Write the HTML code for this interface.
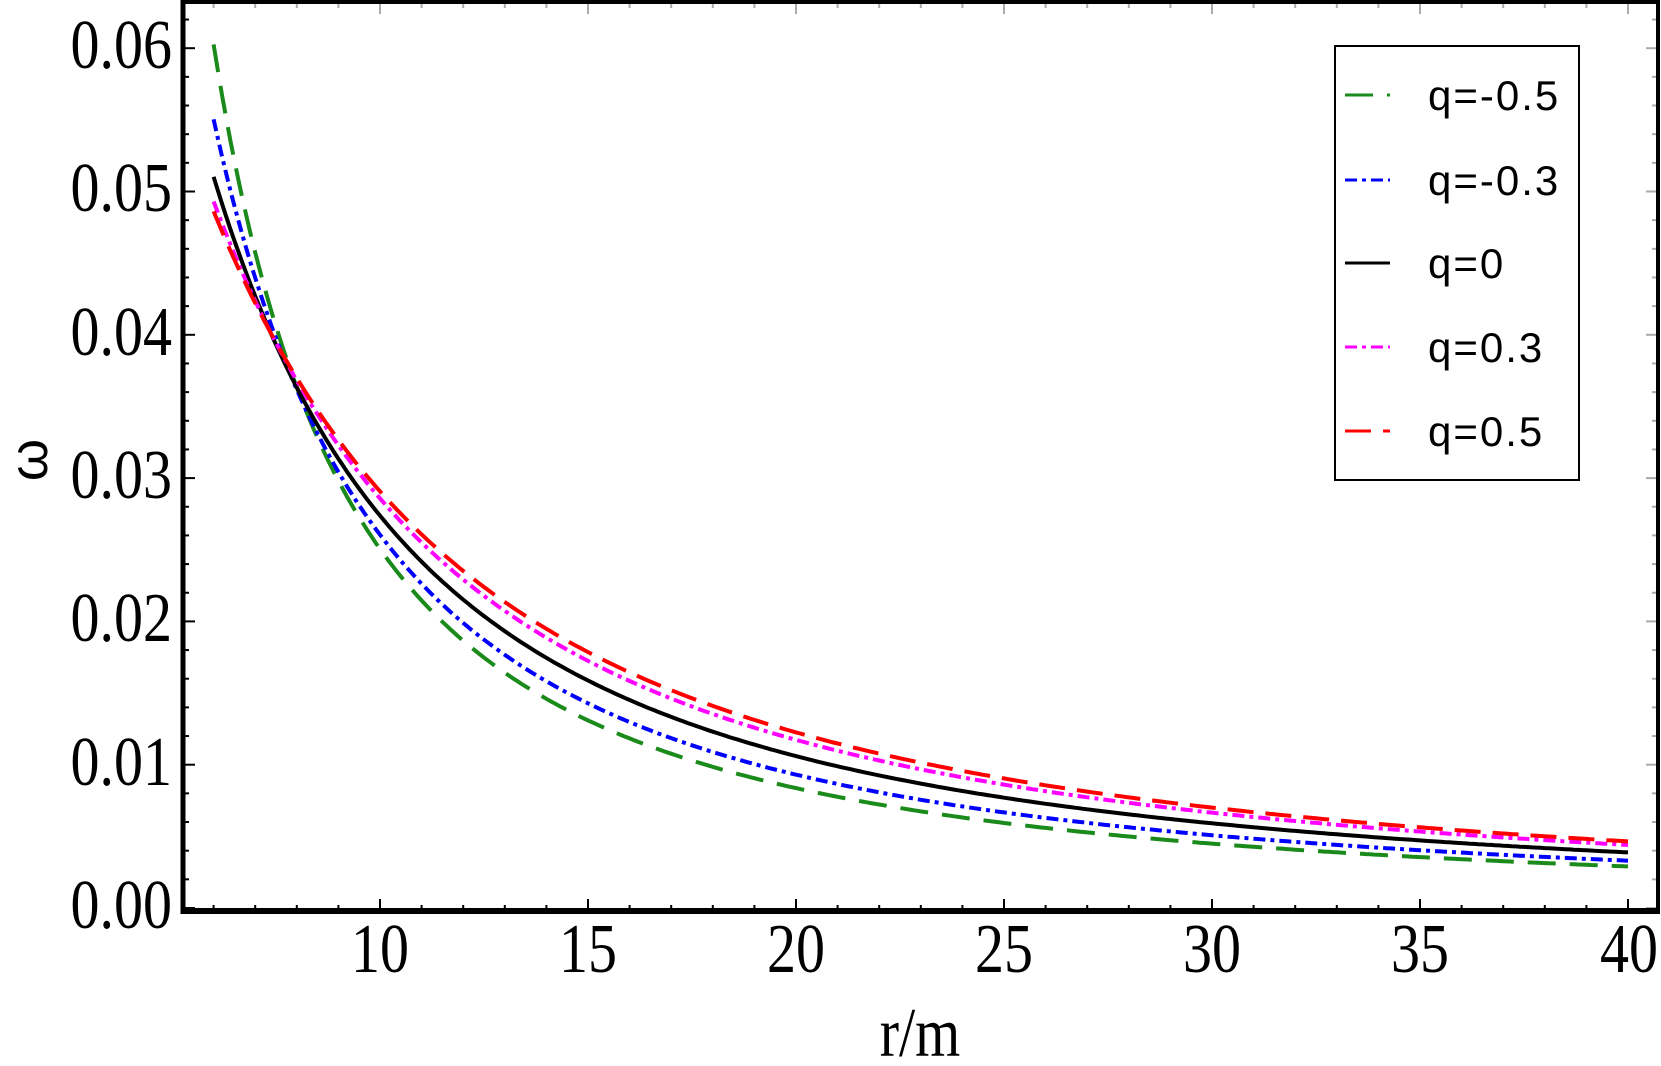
<!DOCTYPE html>
<html><head><style>
html,body{margin:0;padding:0;background:#fff}
svg{display:block}
.t{font-family:"Liberation Serif",serif;font-size:58px;fill:#000}
.l{font-family:"Liberation Sans",sans-serif;font-size:42px;letter-spacing:2px;fill:#000}
</style></head><body>
<svg id="s" width="1661" height="1066" viewBox="0 0 1661 1066" xmlns="http://www.w3.org/2000/svg">
<g id="ticks"></g>
<g id="curves" fill="none"></g>
<rect x="183" y="2" width="1475" height="909" fill="none" stroke="#000" stroke-width="4"/>
<line x1="183" y1="0" x2="183" y2="914" stroke="#000" stroke-width="5"/>
<line x1="181" y1="911" x2="1660" y2="911" stroke="#000" stroke-width="6"/>
<g class="t" text-anchor="end">
<text transform="translate(172,68) scale(1,1.2)">0.06</text>
<text transform="translate(172,211) scale(1,1.2)">0.05</text>
<text transform="translate(172,355) scale(1,1.2)">0.04</text>
<text transform="translate(172,498) scale(1,1.2)">0.03</text>
<text transform="translate(172,641) scale(1,1.2)">0.02</text>
<text transform="translate(172,785) scale(1,1.2)">0.01</text>
<text transform="translate(172,928) scale(1,1.2)">0.00</text>
</g>
<g class="t" text-anchor="middle">
<text transform="translate(380,972) scale(1,1.2)">10</text>
<text transform="translate(588,972) scale(1,1.2)">15</text>
<text transform="translate(796,972) scale(1,1.2)">20</text>
<text transform="translate(1004,972) scale(1,1.2)">25</text>
<text transform="translate(1212,972) scale(1,1.2)">30</text>
<text transform="translate(1420,972) scale(1,1.2)">35</text>
<text transform="translate(1629,972) scale(1,1.2)">40</text>
<text transform="translate(920,1056) scale(1,1.2)">r/m</text>
<text transform="translate(47,460) rotate(-90)" style="font-family:'Liberation Sans',sans-serif;font-size:54px">ω</text>
</g>
<rect x="1335" y="46" width="244" height="434" fill="#fff" stroke="#000" stroke-width="2"/>
<g id="leg"></g>
<g class="l">
<text x="1428" y="110">q=-0.5</text>
<text x="1428" y="195">q=-0.3</text>
<text x="1428" y="278">q=0</text>
<text x="1428" y="362">q=0.3</text>
<text x="1428" y="446">q=0.5</text>
</g>
</svg>
<script>
var NS="http://www.w3.org/2000/svg";
function el(p,n,a){var e=document.createElementNS(NS,n);for(var k in a)e.setAttribute(k,a[k]);p.appendChild(e);return e;}
var X=function(r){return 380+(r-10)*41.6};
var Y=function(w){return 908-w*14330};
var tk=document.getElementById('ticks');
for(var r=6;r<=40;r++){var maj=(r%5==0);
 el(tk,'line',{x1:X(r),x2:X(r),y1:911,y2:911-(maj?12:6),stroke:'#000','stroke-width':2});
 el(tk,'line',{x1:X(r),x2:X(r),y1:2,y2:2+(maj?12:6),stroke:'#aaa','stroke-width':2});}
for(var i=0;i<=31;i++){var w=i*0.002,maj=(i%5==0),y=Y(w);if(y<4)continue;
 el(tk,'line',{x1:183,x2:183+(maj?12:6),y1:y,y2:y,stroke:'#000','stroke-width':2});
 el(tk,'line',{x1:1658,x2:1658-(maj?12:6),y1:y,y2:y,stroke:'#aaa','stroke-width':2});}
var S=[
 {A:0.726,c:-2.65,col:'#1a8a1a',d:'28 14'},
 {A:0.837,c:0.51,col:'#0000ff',d:'12 5 4 5'},
 {A:1.0,c:4.9,col:'#000',d:''},
 {A:1.151,c:8.65,col:'#ff00ff',d:'12 5 4 5'},
 {A:1.225,c:10.5,col:'#ff0000',d:'26 12'}];
var cv=document.getElementById('curves'),lg=document.getElementById('leg');
var ly=[95,180,263,347,431];
S.forEach(function(s,k){var d='';
 for(var r=6;r<=40.001;r+=0.1){var w=s.A/(Math.pow(r,1.5)+s.c);d+=(d?'L':'M')+X(r).toFixed(1)+' '+Y(w).toFixed(1);}
 var a={d:d,stroke:s.col,'stroke-width':4};if(s.d)a['stroke-dasharray']=s.d;el(cv,'path',a);
 var b={x1:1345,x2:1390,y1:ly[k],y2:ly[k],stroke:s.col,'stroke-width':3};if(s.d)b['stroke-dasharray']=s.d;el(lg,'line',b);
});
</script>
</body></html>
